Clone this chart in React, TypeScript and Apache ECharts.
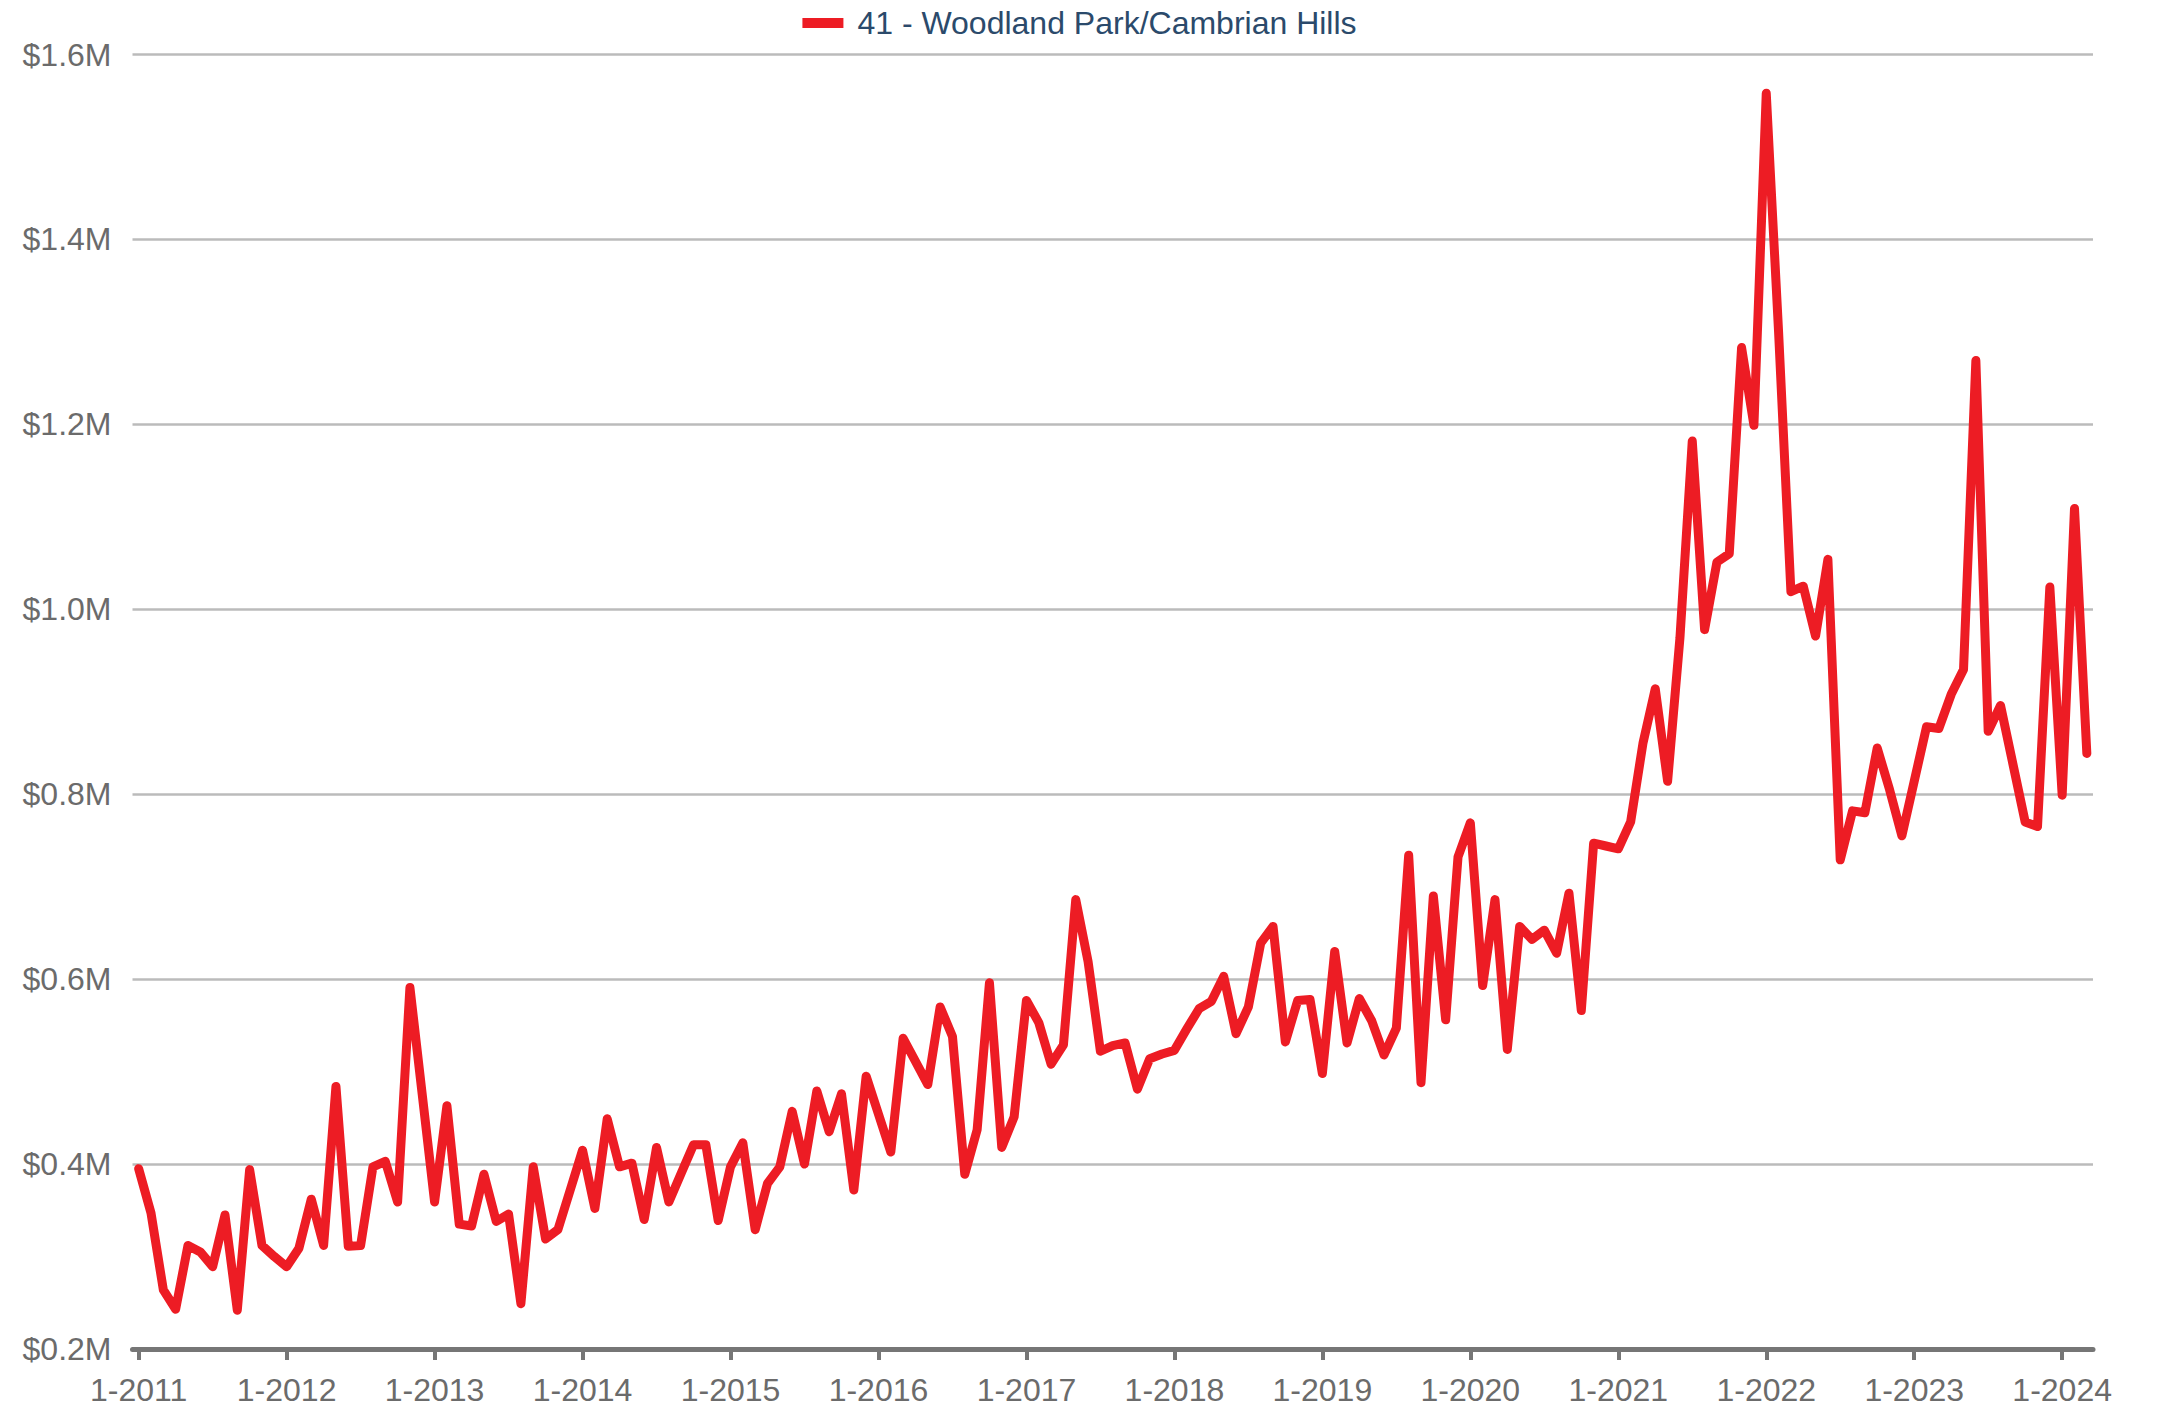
import React, { useEffect, useRef } from "react";
import * as echarts from "echarts";

const seriesName = "41 - Woodland Park/Cambrian Hills";
const years = [2011, 2012, 2013, 2014, 2015, 2016, 2017, 2018, 2019, 2020, 2021, 2022, 2023, 2024];
const monthsInLastYear = 3;

// median price in $M, monthly
const v2011 = [0.395, 0.347, 0.264, 0.243, 0.312, 0.305, 0.289, 0.345, 0.242, 0.394, 0.312, 0.300];
const v2012 = [0.289, 0.309, 0.362, 0.312, 0.484, 0.311, 0.312, 0.397, 0.403, 0.359, 0.591, 0.475];
const v2013 = [0.359, 0.463, 0.335, 0.333, 0.389, 0.338, 0.346, 0.249, 0.397, 0.319, 0.329, 0.372];
const v2014 = [0.415, 0.352, 0.449, 0.397, 0.401, 0.340, 0.418, 0.359, 0.390, 0.421, 0.421, 0.339];
const v2015 = [0.397, 0.423, 0.329, 0.379, 0.397, 0.457, 0.400, 0.479, 0.435, 0.476, 0.372, 0.495];
const v2016 = [0.454, 0.413, 0.536, 0.511, 0.486, 0.570, 0.538, 0.389, 0.437, 0.596, 0.418, 0.451];
const v2017 = [0.577, 0.553, 0.508, 0.529, 0.686, 0.619, 0.522, 0.528, 0.531, 0.481, 0.514, 0.519];
const v2018 = [0.523, 0.546, 0.568, 0.576, 0.603, 0.541, 0.570, 0.639, 0.657, 0.532, 0.577, 0.578];
const v2019 = [0.498, 0.630, 0.531, 0.579, 0.555, 0.518, 0.547, 0.734, 0.488, 0.690, 0.556, 0.732];
const v2020 = [0.769, 0.593, 0.686, 0.524, 0.657, 0.643, 0.653, 0.628, 0.693, 0.566, 0.747, 0.744];
const v2021 = [0.741, 0.770, 0.855, 0.914, 0.814, 0.969, 1.182, 0.978, 1.051, 1.060, 1.283, 1.199];
const v2022 = [1.558, 1.300, 1.019, 1.025, 0.971, 1.054, 0.729, 0.782, 0.780, 0.850, 0.805, 0.755];
const v2023 = [0.814, 0.873, 0.871, 0.908, 0.935, 1.269, 0.868, 0.896, 0.833, 0.770, 0.765, 1.024];
const v2024 = [0.799, 1.109, 0.844];

const yMin = 200000;
const yMax = 1600000;
const yStep = 200000;

export default function App() {
  const ref = useRef<HTMLDivElement>(null);

  useEffect(() => {
    if (!ref.current) return;
    const chart = echarts.init(ref.current, undefined, { renderer: "svg" });

    const categories: string[] = [];
    years.forEach((y, yi) => {
      const n = yi === years.length - 1 ? monthsInLastYear : 12;
      for (let m = 1; m <= n; m++) categories.push(`${m}-${y}`);
    });
    const values = [
      ...v2011, ...v2012, ...v2013, ...v2014, ...v2015, ...v2016, ...v2017,
      ...v2018, ...v2019, ...v2020, ...v2021, ...v2022, ...v2023, ...v2024,
    ].map((v) => Math.round(v * 1000000));

    const font = "'Liberation Sans', Arial, sans-serif";

    chart.setOption({
      animation: false,
      backgroundColor: "#ffffff",
      textStyle: { fontFamily: font },
      legend: {
        top: 2,
        left: "center",
        data: [seriesName],
        icon: "rect",
        itemWidth: 41,
        itemHeight: 10,
        itemGap: 10,
        textStyle: { color: "#2B4A6B", fontSize: 32, fontFamily: font, padding: [0, 0, 0, 9] },
      },
      grid: { left: 132.5, right: 66, top: 54.5, bottom: 61, containLabel: false },
      xAxis: {
        type: "category",
        data: categories,
        boundaryGap: true,
        axisLine: { show: true, lineStyle: { color: "#767676", width: 5 } },
        axisTick: {
          show: true,
          alignWithLabel: true,
          interval: 11,
          length: 11,
          lineStyle: { color: "#767676", width: 4 },
        },
        axisLabel: {
          interval: 11,
          color: "#6B6B6B",
          fontSize: 32,
          fontFamily: font,
          margin: 25,
        },
        splitLine: { show: false },
      },
      yAxis: {
        type: "value",
        min: yMin,
        max: yMax,
        interval: yStep,
        axisLine: { show: false },
        axisTick: { show: false },
        axisLabel: {
          color: "#6B6B6B",
          fontSize: 32,
          fontFamily: font,
          margin: 21,
          formatter: (v: number) => `$${(v / 1000000).toFixed(1)}M`,
        },
        splitLine: { show: true, lineStyle: { color: "#BBBBBB", width: 2.5 } },
      },
      series: [
        {
          name: seriesName,
          type: "line",
          data: values,
          showSymbol: false,
          symbol: "none",
          color: "#ED1C24",
          lineStyle: { color: "#ED1C24", width: 9, cap: "round", join: "round" },
          z: 3,
        },
      ],
    });

    return () => chart.dispose();
  }, []);

  return (
    <div
      ref={ref}
      style={{ position: "fixed", left: 0, top: 0, width: "2159px", height: "1410px", background: "#fff" }}
    />
  );
}
